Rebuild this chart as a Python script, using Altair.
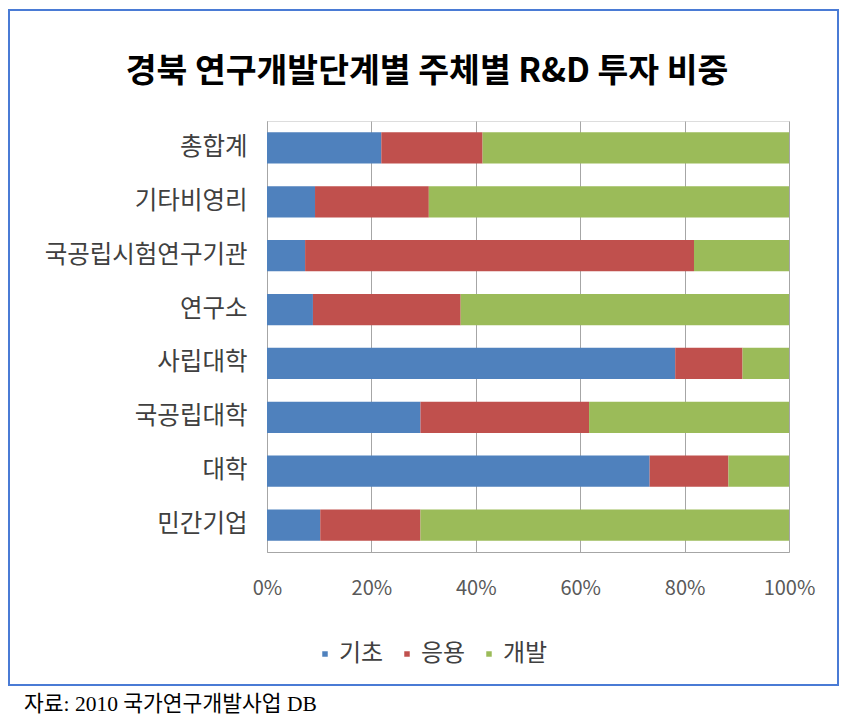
import altair as alt
import pandas as pd

categories = ["총합계", "기타비영리", "국공립시험연구기관", "연구소", "사립대학", "국공립대학", "대학", "민간기업"]
series = ["기초", "응용", "개발"]
basic = [21.9, 9.2, 7.3, 8.8, 78.2, 29.4, 73.3, 10.2]
applied = [19.4, 21.8, 74.5, 28.3, 12.9, 32.3, 15.1, 19.2]
develop = [58.7, 69.0, 18.2, 62.9, 8.9, 38.3, 11.6, 70.6]
colors = ["#4F81BD", "#C0504D", "#9BBB59"]
x_ticks = [0, 20, 40, 60, 80, 100]
title_text = "경북 연구개발단계별 주체별 R&D 투자 비중"
source_text = "자료: 2010 국가연구개발사업 DB"

rows = []
for i, c in enumerate(categories):
    for j, (s, vals) in enumerate(zip(series, [basic, applied, develop])):
        rows.append({"주체": c, "단계": s, "비중": vals[i], "순서": j})
df = pd.DataFrame(rows)
one = pd.DataFrame({"t": [0]})

FONT = "Noto Sans CJK KR"

bars = alt.Chart(df).mark_bar().encode(
    y=alt.Y("주체:N", sort=categories,
            scale=alt.Scale(paddingInner=0.42, paddingOuter=0.21),
            axis=alt.Axis(title=None, ticks=False, domain=True, domainColor="#A6A6A6",
                          labelFont=FONT, labelFontSize=24.5, labelColor="#404040",
                          labelPadding=20, grid=False, labelLimit=400)),
    x=alt.X("비중:Q", stack="normalize",
            scale=alt.Scale(domain=[0, 1], nice=False),
            axis=alt.Axis(title=None, format="%", values=[v / 100 for v in x_ticks],
                          ticks=False, domain=True, domainColor="#A6A6A6",
                          labelFont=FONT, labelFontSize=20, labelColor="#595959",
                          labelFlush=False,
                          labelPadding=26, grid=True, gridColor="#A6A6A6", gridWidth=1)),
    color=alt.Color("단계:N", sort=series,
                    scale=alt.Scale(domain=series, range=colors),
                    legend=alt.Legend(title=None, orient="none", legendX=46, legendY=521,
                                      direction="horizontal", symbolType="square",
                                      symbolSize=30, symbolStrokeWidth=0,
                                      labelFont=FONT, labelFontSize=24, labelColor="#404040",
                                      labelOffset=2, columnPadding=11, padding=0)),
    order=alt.Order("순서:Q", sort="ascending"),
)

border = alt.Chart(one).mark_rect(fillOpacity=0, stroke="#4A7BD5", strokeWidth=2).encode(
    x=alt.value(-258), x2=alt.value(571), y=alt.value(-111), y2=alt.value(564)
)

title = alt.Chart(one).mark_text(
    text=title_text, font=FONT, fontSize=33.5, fontWeight="bold", color="#000000",
    align="center", baseline="middle"
).encode(x=alt.value(160), y=alt.value(-49))

source = alt.Chart(one).mark_text(
    text=source_text, font="Liberation Serif, " + FONT, fontSize=21.5, color="#000000",
    align="left", baseline="middle"
).encode(x=alt.value(-243), y=alt.value(584))

chart = alt.layer(bars, border, title, source).properties(
    width=522, height=431,
    autosize=alt.AutoSizeParams(type="none"),
    padding={"left": 259, "top": 113, "right": 50, "bottom": 168},
).configure_view(stroke=None).configure(background="#FFFFFF")

chart.save("out.html", embed_options={"renderer": "svg", "actions": False})
